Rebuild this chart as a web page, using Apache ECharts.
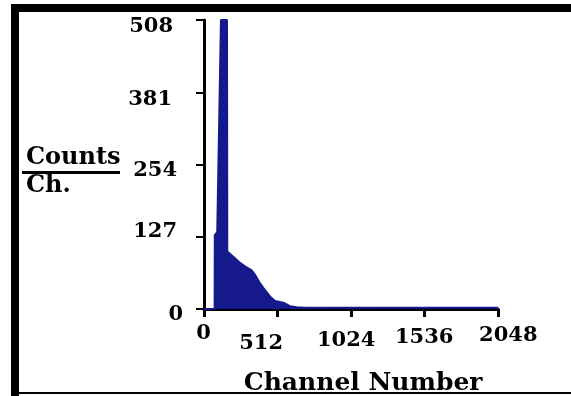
<!DOCTYPE html>
<html>
<head>
<meta charset="utf-8">
<script src="https://cdn.jsdelivr.net/npm/echarts@6/dist/echarts.min.js"></script>
<style>
html,body{margin:0;padding:0;background:#fff;}
#c{width:571px;height:396px;}
</style>
</head>
<body>
<div id="c"></div>
<script>
// Histogram outline: channel number and counts per channel
const channels = [0, 74, 75, 92, 118, 160, 162, 204, 251, 297, 332, 355, 390, 425, 459, 494, 552, 598, 645, 700, 2048];
const counts   = [0, 0, 130, 135, 508, 508, 101, 92, 81, 73, 68, 60, 45, 33, 22, 14, 11, 5, 3, 2, 2];
const xTicks = [0, 512, 1024, 1536, 2048];
const yTicks = [0, 127, 254, 381, 508];

const FONT = '"DejaVu Serif", "Liberation Serif", serif';
const navy = '#15198c';

const chart = echarts.init(document.getElementById('c'), null, {renderer: 'canvas'});
const base = {fontFamily: FONT, fontWeight: 'bold', fontSize: 21, color: '#000'};
const xRich = {
  x0: Object.assign({}, base, {padding: [0, 1, 0, 0]}),
  x512: Object.assign({}, base, {padding: [10, 33, 0, 0]}),
  x1024: Object.assign({}, base, {padding: [7, 10, 0, 0]}),
  x1536: Object.assign({}, base, {padding: [4, 1, 0, 0]}),
  x2048: Object.assign({}, base, {padding: [2, 0, 0, 20]})
};
const yRich = {
  y0: Object.assign({}, base, {padding: [12, 0, 0, 0]}),
  y127: Object.assign({}, base, {padding: [0, 6, 10, 0]}),
  y254: Object.assign({}, base, {padding: [12, 6, 0, 0]}),
  y381: Object.assign({}, base, {padding: [14, 11, 0, 0]}),
  y508: Object.assign({}, base, {padding: [14, 10, 0, 0]})
};

chart.setOption({
  animation: false,
  backgroundColor: '#fff',
  grid: {left: 204, right: 72.7, top: 20, bottom: 87, containLabel: false, outerBoundsMode: 'none'},
  xAxis: {
    type: 'value', min: xTicks[0], max: xTicks[xTicks.length - 1], interval: 512,
    name: 'Channel Number', nameLocation: 'middle', nameGap: 62,
    nameTextStyle: {fontFamily: FONT, fontWeight: 'bold', fontSize: 25, color: '#000', padding: [0, 0, 0, 24]},
    axisLine: {lineStyle: {color: '#000', width: 3}},
    axisTick: {show: true, length: 8, lineStyle: {color: '#000', width: 3}},
    splitLine: {show: false},
    axisLabel: {margin: 14, formatter: v => '{x' + v + '|' + v + '}', rich: xRich}
  },
  yAxis: {
    type: 'value', min: yTicks[0], max: yTicks[yTicks.length - 1], interval: 127,
    axisLine: {show: true, lineStyle: {color: '#000', width: 3}},
    axisTick: {show: true, length: 8, lineStyle: {color: '#000', width: 2}},
    splitLine: {show: false},
    axisLabel: {margin: 21, formatter: v => '{y' + v + '|' + v + '}', rich: yRich}
  },
  series: [{
    type: 'line',
    data: channels.map((c, i) => [c, counts[i]]),
    showSymbol: false,
    clip: true,
    lineStyle: {color: navy, width: 2},
    areaStyle: {color: navy, opacity: 1},
    z: 1
  }],
  graphic: [
    {type: 'rect', shape: {x: 11, y: 4, width: 8, height: 392}, style: {fill: '#000'}},
    {type: 'rect', shape: {x: 11, y: 4, width: 560, height: 8}, style: {fill: '#000'}},
    {type: 'rect', shape: {x: 11, y: 392, width: 560, height: 2}, style: {fill: '#000'}},
    {type: 'text', x: 26, y: 158, style: {text: 'Counts', font: 'bold 24px ' + FONT, fill: '#000', textVerticalAlign: 'middle'}},
    {type: 'rect', shape: {x: 22, y: 171, width: 98, height: 3}, style: {fill: '#000'}},
    {type: 'text', x: 26, y: 186, style: {text: 'Ch.', font: 'bold 24px ' + FONT, fill: '#000', textVerticalAlign: 'middle'}}
  ]
});
</script>
</body>
</html>
